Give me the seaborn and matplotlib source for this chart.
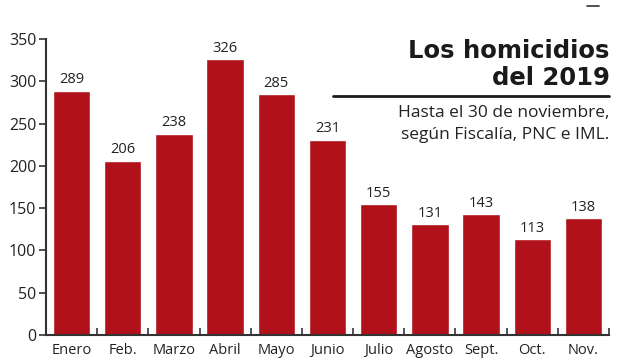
import matplotlib
matplotlib.use("Agg")
import matplotlib.pyplot as plt
import seaborn as sns
import numpy as np
import pandas as pd

# Data
meses = ["Enero", "Feb.", "Marzo", "Abril", "Mayo", "Junio",
         "Julio", "Agosto", "Sept.", "Oct.", "Nov."]
homicidios = [289, 206, 238, 326, 285, 231, 155, 131, 143, 113, 138]

df = pd.DataFrame({"mes": meses, "homicidios": homicidios})

sns.set_style("white")
plt.rcParams["font.family"] = ["Open Sans", "DejaVu Sans"]

fig = plt.figure(figsize=(6.27, 3.6), dpi=100)
ax = fig.add_axes([0.0734, 0.0694, 0.8979, 0.8223])

sns.barplot(data=df, x="mes", y="homicidios", color="#B0111A",
            saturation=1, width=0.73, ax=ax)

for i, v in enumerate(homicidios):
    ax.text(i, v + 4, str(v), ha="center", va="bottom", fontsize=10.5, color="#222222")

ax.set_xlim(-0.5, len(meses) - 0.5)
ax.set_ylim(0, 350)
ax.set_yticks(range(0, 351, 50))
ax.set_xlabel("")
ax.set_ylabel("")

for s in ["top", "right"]:
    ax.spines[s].set_visible(False)
for s in ["left", "bottom"]:
    ax.spines[s].set_color("#333333")
    ax.spines[s].set_linewidth(1.5)

ax.tick_params(axis="y", direction="out", length=5, width=1.2, color="#333333",
               labelsize=11.5, labelcolor="#222222", left=True, pad=2)
ax.tick_params(axis="x", which="major", length=0, labelsize=10.5, labelcolor="#222222", pad=6)
ax.set_xticks(np.arange(0.5, len(meses), 1), minor=True)
ax.tick_params(axis="x", which="minor", direction="in", length=5, width=1.2,
               color="#333333", bottom=True)

# Title block
fig.text(0.972, 0.857, "Los homicidios", ha="right", va="center",
         fontsize=17.5, fontweight="heavy", family=["DejaVu Sans"], color="#1a1a1a")
fig.text(0.972, 0.783, "del 2019", ha="right", va="center",
         fontsize=17.5, fontweight="heavy", family=["DejaVu Sans"], color="#1a1a1a")
fig.add_artist(plt.Line2D([0.531, 0.972], [0.733, 0.733], transform=fig.transFigure,
                          color="#1a1a1a", linewidth=2))
fig.text(0.972, 0.685, "Hasta el 30 de noviembre,", ha="right", va="center",
         fontsize=12.5, color="#222222")
fig.text(0.972, 0.625, "según Fiscalía, PNC e IML.", ha="right", va="center",
         fontsize=12.5, color="#222222")
# small dash at the top right corner of the original
fig.add_artist(plt.Line2D([0.936, 0.955], [0.983, 0.983], transform=fig.transFigure,
                          color="#333333", linewidth=1.2))

fig.savefig("out.png", dpi=100, facecolor="white")
